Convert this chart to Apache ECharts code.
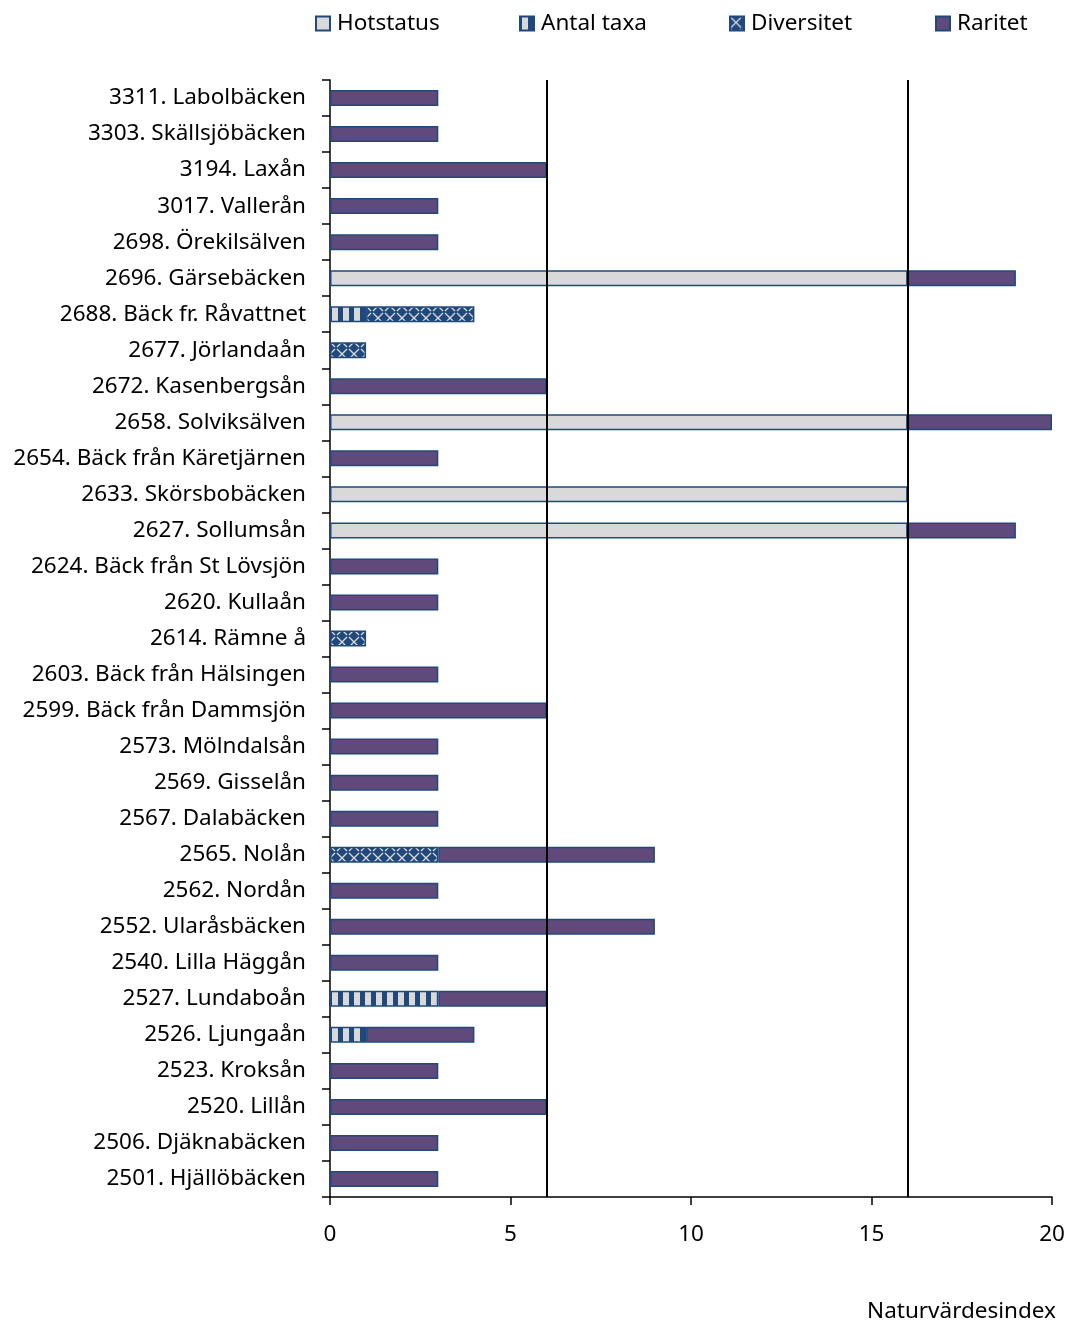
<!DOCTYPE html>
<html>
<head>
<meta charset="utf-8">
<script src="https://cdn.jsdelivr.net/npm/echarts@6/dist/echarts.min.js"></script>
<style>
  html, body { margin: 0; padding: 0; background: #fff; }
  #chart { width: 1069px; height: 1322px; }
</style>
</head>
<body>
<div id="chart"></div>
<script>
// vattendrag, uppifrån och ned
var categories = ['3311. Labolbäcken', '3303. Skällsjöbäcken', '3194. Laxån', '3017. Vallerån',
    '2698. Örekilsälven', '2696. Gärsebäcken', '2688. Bäck fr. Råvattnet', '2677. Jörlandaån',
    '2672. Kasenbergsån', '2658. Solviksälven', '2654. Bäck från Käretjärnen', '2633. Skörsbobäcken',
    '2627. Sollumsån', '2624. Bäck från St Lövsjön', '2620. Kullaån', '2614. Rämne å',
    '2603. Bäck från Hälsingen', '2599. Bäck från Dammsjön', '2573. Mölndalsån', '2569. Gisselån',
    '2567. Dalabäcken', '2565. Nolån', '2562. Nordån', '2552. Ularåsbäcken',
    '2540. Lilla Häggån', '2527. Lundaboån', '2526. Ljungaån', '2523. Kroksån',
    '2520. Lillån', '2506. Djäknabäcken', '2501. Hjällöbäcken'];

var hotstatus = ['-', '-', '-', '-', '-', 16, '-', '-', '-', 16, '-', 16, 16, '-', '-', '-',
    '-', '-', '-', '-', '-', '-', '-', '-', '-', '-', '-', '-', '-', '-', '-'];
var antalTaxa = ['-', '-', '-', '-', '-', '-', 1, '-', '-', '-', '-', '-', '-', '-', '-', '-',
    '-', '-', '-', '-', '-', '-', '-', '-', '-', 3, 1, '-', '-', '-', '-'];
var diversitet = ['-', '-', '-', '-', '-', '-', 3, 1, '-', '-', '-', '-', '-', '-', '-', 1,
    '-', '-', '-', '-', '-', 3, '-', '-', '-', '-', '-', '-', '-', '-', '-'];
var raritet = [3, 3, 6, 3, 3, 3, '-', '-', 6, 4, 3, '-', 3, 3, 3, '-',
    3, 6, 3, 3, 3, 6, 3, 9, 3, 3, 3, 3, 6, 3, 3];

var gransvarden = [6, 16];
var xTicks = { min: 0, max: 20, interval: 5 };

var morkBla = '#1F497D';
var ljusGra = '#D9D9D9';
var fontNamn = 'Noto Sans';
var fontStorlek = 22.5;

// mönster för staplarna
function randMonster() {
    var c = document.createElement('canvas');
    c.width = 11; c.height = 10;
    var ctx = c.getContext('2d');
    ctx.fillStyle = morkBla;
    ctx.fillRect(0, 0, 11, 10);
    ctx.fillStyle = ljusGra;
    ctx.fillRect(2, 0, 6, 10);
    return c;
}
function kryssMonster() {
    var c = document.createElement('canvas');
    c.width = 12; c.height = 12;
    var ctx = c.getContext('2d');
    ctx.fillStyle = morkBla;
    ctx.fillRect(0, 0, 12, 12);
    ctx.strokeStyle = ljusGra;
    ctx.lineWidth = 1.4;
    ctx.beginPath();
    ctx.moveTo(1, 1); ctx.lineTo(11, 11);
    ctx.moveTo(11, 1); ctx.lineTo(1, 11);
    ctx.stroke();
    return c;
}

var chart = echarts.init(document.getElementById('chart'));

function serie(namn, data, farg) {
    return {
        name: namn,
        type: 'bar',
        stack: 'total',
        barWidth: 16,
        data: data,
        itemStyle: { color: farg, borderColor: morkBla, borderWidth: 1.5 },
        emphasis: { disabled: true }
    };
}

var series = [
    serie('Hotstatus', hotstatus, ljusGra),
    serie('Antal taxa', antalTaxa, { image: randMonster(), repeat: 'repeat' }),
    serie('Diversitet', diversitet, { image: kryssMonster(), repeat: 'repeat' }),
    serie('Raritet', raritet, '#604A7B')
];
series[3].markLine = {
    silent: true,
    symbol: ['none', 'none'],
    label: { show: false },
    lineStyle: { color: '#000', width: 2, type: 'solid' },
    data: gransvarden.map(function (v) { return { xAxis: v }; })
};

function legendPost(namn, x) {
    return {
        data: [namn], left: x, top: 7,
        itemWidth: 14, itemHeight: 14, itemGap: 0,
        icon: 'rect',
        selectedMode: false,
        textStyle: { fontFamily: fontNamn, fontSize: fontStorlek, color: '#000', padding: [0, 0, 0, 2] }
    };
}

var option = {
    animation: false,
    legend: [
        legendPost('Hotstatus', 310),
        legendPost('Antal taxa', 514),
        legendPost('Diversitet', 724),
        legendPost('Raritet', 930)
    ],
    grid: { left: 330, right: 17, top: 80, bottom: 125 },
    xAxis: {
        type: 'value',
        min: xTicks.min, max: xTicks.max, interval: xTicks.interval,
        splitLine: { show: false },
        axisLine: { show: true, lineStyle: { color: '#000', width: 1.5 } },
        axisTick: { show: true, length: 8, lineStyle: { color: '#000', width: 1.5 } },
        axisLabel: { color: '#000', fontFamily: fontNamn, fontSize: fontStorlek, margin: 26 }
    },
    yAxis: {
        type: 'category',
        inverse: true,
        data: categories,
        axisLine: { show: true, lineStyle: { color: '#000', width: 1.5 } },
        axisTick: { show: true, length: 8, lineStyle: { color: '#000', width: 1.5 } },
        axisLabel: { color: '#000', fontFamily: fontNamn, fontSize: fontStorlek, margin: 24 }
    },
    graphic: [{
        type: 'text',
        right: 13, top: 1300,
        style: { text: 'Naturvärdesindex', fontFamily: fontNamn, fontSize: fontStorlek, fill: '#000' }
    }],
    series: series
};

chart.setOption(option);
</script>
</body>
</html>
